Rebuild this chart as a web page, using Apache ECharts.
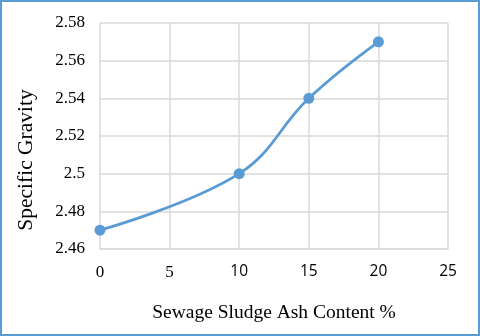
<!DOCTYPE html>
<html>
<head>
<meta charset="utf-8">
<script src="https://cdn.jsdelivr.net/npm/echarts@6/dist/echarts.min.js"></script>
<style>
    html, body { margin: 0; padding: 0; background: #fff; }
    #chart {
        width: 480px;
        height: 336px;
        box-sizing: border-box;
        border: 2px solid #5b9bd5;
    }
</style>
</head>
<body>
<div id="chart"></div>
<script>
// data
let ashContent = [0, 10, 15, 20]
let specificGravity = [2.47, 2.5, 2.54, 2.57]

let myChart = echarts.init(document.getElementById('chart'))
let option = {
    animation: false,
    grid: {
        top: 21,
        bottom: 85,
        left: 98,
        right: 30
    },
    xAxis: {
        type: 'value',
        min: 0,
        max: 25,
        interval: 5,
        name: 'Sewage Sludge Ash Content %',
        nameLocation: 'middle',
        nameGap: 54,
        nameTextStyle: {
            fontFamily: 'Liberation Serif',
            fontSize: 19.5,
            color: '#000'
        },
        axisTick: { show: false },
        axisLine: { lineStyle: { color: '#d9d9d9', width: 1.5 } },
        splitLine: { show: true, lineStyle: { color: '#d9d9d9', width: 1.5 } },
        axisLabel: {
            margin: 15,
            formatter: function (v) {
                // 0 and 5 are serif in the picture, the rest sans
                return v < 10 ? '{s|' + v + '}' : '{n|' + v + '}'
            },
            rich: {
                s: { fontFamily: 'Liberation Serif', fontSize: 17, color: '#000' },
                n: { fontFamily: 'Open Sans', fontSize: 15.5, color: '#000' }
            }
        }
    },
    yAxis: {
        type: 'value',
        min: 2.46,
        max: 2.58,
        interval: 0.02,
        name: 'Specific Gravity',
        nameLocation: 'middle',
        nameGap: 63,
        nameTextStyle: {
            fontFamily: 'Liberation Serif',
            fontSize: 21.5,
            color: '#000',
            // the title sits a bit below the middle of the axis
            padding: [0, 48, 0, 0]
        },
        axisTick: { show: false },
        axisLine: { show: false },
        splitLine: { lineStyle: { color: '#d9d9d9', width: 1.5 } },
        axisLabel: {
            margin: 15,
            fontFamily: 'Liberation Serif',
            fontSize: 17,
            color: '#000',
            formatter: function (v) {
                return String(parseFloat(v.toFixed(2)))
            }
        }
    },
    series: [
        {
            type: 'line',
            data: ashContent.map((x, i) => [x, specificGravity[i]]),
            smooth: 0.4,
            symbol: 'circle',
            symbolSize: 11,
            itemStyle: { color: '#5b9bd5' },
            lineStyle: { color: '#5b9bd5', width: 2.75 }
        }
    ]
}
myChart.setOption(option)
</script>
</body>
</html>
